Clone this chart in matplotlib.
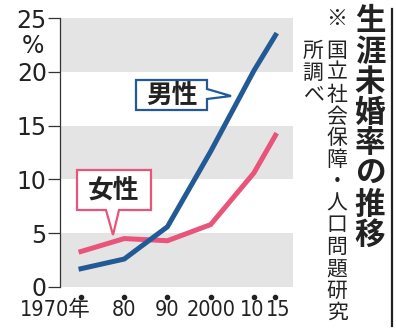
import numpy as np
import matplotlib
matplotlib.use("Agg")
import matplotlib.pyplot as plt
from matplotlib.patches import Polygon
from matplotlib.transforms import ScaledTranslation, blended_transform_factory

plt.rcParams['font.family'] = ['Noto Sans CJK JP', 'DejaVu Sans']

# data
years = [1970, 1980, 1990, 2000, 2010, 2015]
year_labels = ['1970年', '80', '90', '2000', '10', '15']
men = [1.7, 2.6, 5.6, 12.6, 20.1, 23.4]
women = [3.3, 4.5, 4.3, 5.8, 10.6, 14.1]
y_ticks = [0, 5, 10, 15, 20, 25]

title = '生涯未婚率の推移'
note_col1 = '国立社会保障・人口問題研究'
note_col2 = '所調べ'

BLUE = '#225a96'
PINK = '#e8547a'
GRAY = '#e4e4e4'
INK = '#222222'

W, H = 396, 329
fig = plt.figure(figsize=(W / 100, H / 100), dpi=100)
ax = fig.add_axes([60 / W, 1 - 287 / H, 233 / W, 269 / H])

ax.set_xlim(1965.14, 2019.05)
ax.set_ylim(0, 25)

# alternating bands
for lo in (0, 10, 20):
    ax.axhspan(lo, lo + 5, color=GRAY, lw=0, zorder=0)

ax.plot(years, women, color=PINK, lw=3.6, solid_joinstyle='miter', zorder=3)
ax.plot(years, men, color=BLUE, lw=3.6, solid_joinstyle='miter', zorder=4)

for s in ('top', 'right', 'bottom'):
    ax.spines[s].set_visible(False)
ax.spines['left'].set_color('#333333')
ax.spines['left'].set_linewidth(0.9)

ax.set_yticks(y_ticks)
ax.set_yticklabels([str(v) for v in y_ticks], fontsize=17,
                   family=['DejaVu Sans'], color=INK)
ax.tick_params(axis='y', length=8.5, width=0.9, color='#333333', pad=1)

ax.set_xticks(years)
ax.set_xticklabels(year_labels, fontsize=15.5, color=INK, fontstretch='condensed',
                   family=['DejaVu Sans', 'Noto Sans CJK JP'])
ax.tick_params(axis='x', length=0, pad=9)
# small nudges so the crowded labels keep apart like in the original
nudges = [10, 0, 0, 0, -1.5, 2.5]
for lab, dx in zip(ax.get_xticklabels(), nudges):
    if dx:
        lab.set_transform(lab.get_transform() + ScaledTranslation(dx / 100, 0, fig.dpi_scale_trans))
ax.get_xticklabels()[0].set_horizontalalignment('right')

# dots above the year labels
bt = blended_transform_factory(ax.transData, ax.transAxes)
ax.scatter(years, [-0.037] * len(years), s=9, color=INK, transform=bt, clip_on=False)

# percent sign under the 25
ax.text(-0.115, 22.4, '%', transform=blended_transform_factory(ax.transAxes, ax.transData),
        fontsize=17, family=['DejaVu Sans'], color=INK, ha='center', va='center')


def px2data(x, y):
    return (1965.14 + (x - 60) / 4.322, (287 - y) / 10.76)


# callout for men
blue_box = [px2data(*p) for p in [(136, 80), (207, 80), (207, 89), (231, 96),
                                  (207, 99), (207, 110), (136, 110)]]
ax.add_patch(Polygon(blue_box, closed=True, facecolor='white', edgecolor=BLUE,
                     lw=1.6, joinstyle='miter', zorder=5))
bx, by = px2data(171.5, 95.5)
ax.text(bx, by, '男性', fontsize=18.5, weight='bold', color=INK,
        ha='center', va='center', zorder=6)

# callout for women
pink_box = [px2data(*p) for p in [(77, 170), (151, 170), (151, 210), (119, 210),
                                  (113, 235), (106, 210), (77, 210)]]
ax.add_patch(Polygon(pink_box, closed=True, facecolor='white', edgecolor=PINK,
                     lw=1.6, joinstyle='miter', zorder=5))
px_, py_ = px2data(114, 190.5)
ax.text(px_, py_, '女性', fontsize=18.5, weight='bold', color=INK,
        ha='center', va='center', zorder=6)


def vtext(s, x, y0, step, size, weight='normal'):
    # one character per text, stacked top to bottom
    for i, ch in enumerate(s):
        fig.text(x / W, 1 - (y0 + i * step) / H, ch, fontsize=size, weight=weight,
                 color=INK, ha='center', va='center')


vtext(title, 370, 21, 30.6, 22, weight='bold')
vtext('※', 337, 19, 21.8, 15)
vtext(note_col1, 337, 51, 21.8, 15)
vtext(note_col2, 313, 51, 21.8, 15)

fig.add_artist(plt.Line2D([392 / W, 392 / W], [1 - 9 / H, 1 - 326 / H],
                          color='#222222', lw=1.6))

fig.savefig('out.png', dpi=100)
